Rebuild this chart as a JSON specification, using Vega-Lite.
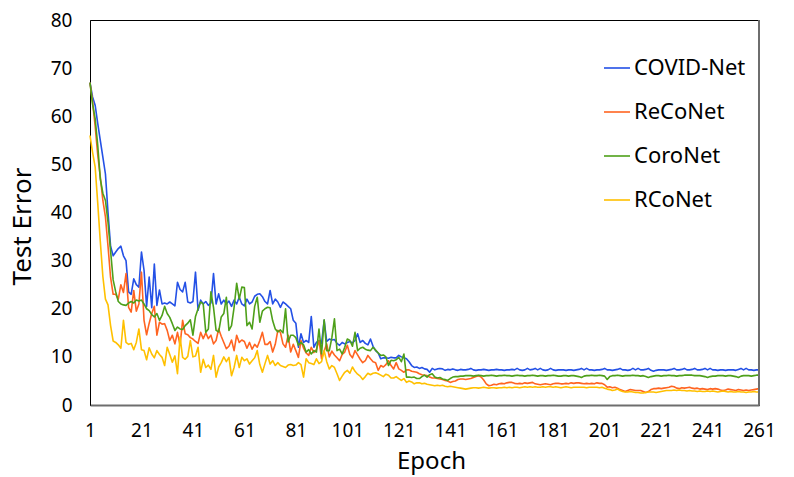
{
"$schema": "https://vega.github.io/schema/vega-lite/v6.json",
"width": 669,
"height": 385,
"autosize": {"type": "none"},
"padding": {"left": 90, "top": 20, "right": 35, "bottom": 72},
"background": "white",
"config": {
  "font": "Noto Sans",
  "view": {"stroke": "#000", "strokeWidth": 1},
  "axis": {"grid": false, "ticks": false, "labelColor": "#000", "titleColor": "#000", "titleFontWeight": "normal", "labelFont": "Noto Sans", "titleFont": "Noto Sans"}
},
"data": {"values": [
{"e":1,"COVID-Net":67,"ReCoNet":67,"CoroNet":67,"RCoNet":56},
{"e":2,"COVID-Net":64,"ReCoNet":63,"CoroNet":62.5,"RCoNet":52.5},
{"e":3,"COVID-Net":62.3,"ReCoNet":58,"CoroNet":59.5,"RCoNet":49.5},
{"e":4,"COVID-Net":58.5,"ReCoNet":52,"CoroNet":54,"RCoNet":42},
{"e":5,"COVID-Net":55,"ReCoNet":47.4,"CoroNet":47,"RCoNet":34},
{"e":6,"COVID-Net":51.5,"ReCoNet":42.5,"CoroNet":44,"RCoNet":26.7},
{"e":7,"COVID-Net":48,"ReCoNet":39.1,"CoroNet":42.5,"RCoNet":22},
{"e":8,"COVID-Net":40,"ReCoNet":33,"CoroNet":38,"RCoNet":20.8},
{"e":9,"COVID-Net":33,"ReCoNet":26.5,"CoroNet":32,"RCoNet":16.5},
{"e":10,"COVID-Net":31,"ReCoNet":23,"CoroNet":26,"RCoNet":13.3},
{"e":11,"COVID-Net":31.8,"ReCoNet":23,"CoroNet":23.5,"RCoNet":13},
{"e":12,"COVID-Net":32.5,"ReCoNet":22,"CoroNet":21.5,"RCoNet":12.5},
{"e":13,"COVID-Net":33,"ReCoNet":25,"CoroNet":21,"RCoNet":11.8},
{"e":14,"COVID-Net":31,"ReCoNet":23.4,"CoroNet":20.8,"RCoNet":17.6},
{"e":15,"COVID-Net":30,"ReCoNet":27.3,"CoroNet":20.7,"RCoNet":13},
{"e":16,"COVID-Net":23.5,"ReCoNet":20.3,"CoroNet":21.2,"RCoNet":12.6},
{"e":17,"COVID-Net":23,"ReCoNet":19.3,"CoroNet":21.5,"RCoNet":12.8},
{"e":18,"COVID-Net":26.2,"ReCoNet":23.8,"CoroNet":21.2,"RCoNet":11.5},
{"e":19,"COVID-Net":25,"ReCoNet":19.5,"CoroNet":21.8,"RCoNet":13},
{"e":20,"COVID-Net":24.5,"ReCoNet":21,"CoroNet":21.6,"RCoNet":15.8},
{"e":21,"COVID-Net":31.8,"ReCoNet":27.6,"CoroNet":21.8,"RCoNet":11.5},
{"e":22,"COVID-Net":28,"ReCoNet":17.6,"CoroNet":21,"RCoNet":11.3},
{"e":23,"COVID-Net":20.5,"ReCoNet":14.6,"CoroNet":20,"RCoNet":9.4},
{"e":24,"COVID-Net":26.6,"ReCoNet":17,"CoroNet":19.6,"RCoNet":11.9},
{"e":25,"COVID-Net":20.2,"ReCoNet":19,"CoroNet":18.8,"RCoNet":10.6},
{"e":26,"COVID-Net":29.3,"ReCoNet":20.5,"CoroNet":18.3,"RCoNet":9.8},
{"e":27,"COVID-Net":20.7,"ReCoNet":14.5,"CoroNet":19,"RCoNet":11.3},
{"e":28,"COVID-Net":23.9,"ReCoNet":17.2,"CoroNet":17.6,"RCoNet":10.5},
{"e":29,"COVID-Net":21,"ReCoNet":16.8,"CoroNet":18.6,"RCoNet":9.9},
{"e":30,"COVID-Net":21.2,"ReCoNet":16.9,"CoroNet":20.5,"RCoNet":8.2},
{"e":31,"COVID-Net":21,"ReCoNet":15.5,"CoroNet":19,"RCoNet":12},
{"e":32,"COVID-Net":21.4,"ReCoNet":13.4,"CoroNet":18.2,"RCoNet":10.5},
{"e":33,"COVID-Net":21,"ReCoNet":14.5,"CoroNet":16.9,"RCoNet":8.9},
{"e":34,"COVID-Net":20.6,"ReCoNet":12.7,"CoroNet":15.5,"RCoNet":10.2},
{"e":35,"COVID-Net":25.5,"ReCoNet":15.1,"CoroNet":16.2,"RCoNet":6.5},
{"e":36,"COVID-Net":24,"ReCoNet":12.4,"CoroNet":15.8,"RCoNet":14.1},
{"e":37,"COVID-Net":23.5,"ReCoNet":17.6,"CoroNet":15.7,"RCoNet":9.9},
{"e":38,"COVID-Net":25.5,"ReCoNet":14.8,"CoroNet":16.5,"RCoNet":9.5},
{"e":39,"COVID-Net":21.4,"ReCoNet":14.6,"CoroNet":17,"RCoNet":10.1},
{"e":40,"COVID-Net":21.2,"ReCoNet":14,"CoroNet":17.7,"RCoNet":13.4},
{"e":41,"COVID-Net":21.5,"ReCoNet":13.7,"CoroNet":14.5,"RCoNet":10},
{"e":42,"COVID-Net":27.6,"ReCoNet":13.2,"CoroNet":18.4,"RCoNet":10.2},
{"e":43,"COVID-Net":19.7,"ReCoNet":12.8,"CoroNet":20,"RCoNet":12},
{"e":44,"COVID-Net":21.8,"ReCoNet":15.1,"CoroNet":21.4,"RCoNet":6.8},
{"e":45,"COVID-Net":21,"ReCoNet":13.8,"CoroNet":21,"RCoNet":9.5},
{"e":46,"COVID-Net":21.5,"ReCoNet":15,"CoroNet":15.1,"RCoNet":7.8},
{"e":47,"COVID-Net":20.7,"ReCoNet":13.8,"CoroNet":15.8,"RCoNet":8.3},
{"e":48,"COVID-Net":21.2,"ReCoNet":14.5,"CoroNet":23.5,"RCoNet":7.4},
{"e":49,"COVID-Net":27.3,"ReCoNet":12.7,"CoroNet":20.3,"RCoNet":10.3},
{"e":50,"COVID-Net":21,"ReCoNet":13.4,"CoroNet":15.5,"RCoNet":5.8},
{"e":51,"COVID-Net":23.1,"ReCoNet":15.8,"CoroNet":15.2,"RCoNet":7.9},
{"e":52,"COVID-Net":21,"ReCoNet":14.3,"CoroNet":18.3,"RCoNet":8.8},
{"e":53,"COVID-Net":21.8,"ReCoNet":13,"CoroNet":19,"RCoNet":10},
{"e":54,"COVID-Net":21,"ReCoNet":11.7,"CoroNet":22.4,"RCoNet":9},
{"e":55,"COVID-Net":21.6,"ReCoNet":12.2,"CoroNet":15.5,"RCoNet":9.9},
{"e":56,"COVID-Net":20.5,"ReCoNet":13.5,"CoroNet":16.5,"RCoNet":6.1},
{"e":57,"COVID-Net":21.8,"ReCoNet":11.3,"CoroNet":20.3,"RCoNet":7.8},
{"e":58,"COVID-Net":21,"ReCoNet":14.5,"CoroNet":25.3,"RCoNet":10.3},
{"e":59,"COVID-Net":22.4,"ReCoNet":13,"CoroNet":22,"RCoNet":7.8},
{"e":60,"COVID-Net":21,"ReCoNet":13.5,"CoroNet":24.5,"RCoNet":9.9},
{"e":61,"COVID-Net":20.6,"ReCoNet":13.2,"CoroNet":24.4,"RCoNet":9.2},
{"e":62,"COVID-Net":22,"ReCoNet":11.8,"CoroNet":16.5,"RCoNet":9.6},
{"e":63,"COVID-Net":21,"ReCoNet":13,"CoroNet":17.2,"RCoNet":8.5},
{"e":64,"COVID-Net":21.4,"ReCoNet":11.6,"CoroNet":15.8,"RCoNet":9.2},
{"e":65,"COVID-Net":22.6,"ReCoNet":12.6,"CoroNet":20.5,"RCoNet":9.8},
{"e":66,"COVID-Net":23,"ReCoNet":12,"CoroNet":22.4,"RCoNet":11.3},
{"e":67,"COVID-Net":23.1,"ReCoNet":13.4,"CoroNet":17.2,"RCoNet":8.4},
{"e":68,"COVID-Net":22.5,"ReCoNet":15.1,"CoroNet":19.5,"RCoNet":6.8},
{"e":69,"COVID-Net":21.5,"ReCoNet":12.6,"CoroNet":20,"RCoNet":8.6},
{"e":70,"COVID-Net":21,"ReCoNet":12.6,"CoroNet":20.3,"RCoNet":10.3},
{"e":71,"COVID-Net":23.8,"ReCoNet":13.2,"CoroNet":20.2,"RCoNet":8.5},
{"e":72,"COVID-Net":21,"ReCoNet":11,"CoroNet":17.5,"RCoNet":9.2},
{"e":73,"COVID-Net":22,"ReCoNet":12.6,"CoroNet":15.8,"RCoNet":8.2},
{"e":74,"COVID-Net":21.4,"ReCoNet":15.5,"CoroNet":15.2,"RCoNet":8.8},
{"e":75,"COVID-Net":20.3,"ReCoNet":15.1,"CoroNet":15.6,"RCoNet":8.2},
{"e":76,"COVID-Net":21.4,"ReCoNet":12.7,"CoroNet":15,"RCoNet":8},
{"e":77,"COVID-Net":21,"ReCoNet":12,"CoroNet":20,"RCoNet":7.8},
{"e":78,"COVID-Net":20.5,"ReCoNet":14.5,"CoroNet":13.1,"RCoNet":8.3},
{"e":79,"COVID-Net":20,"ReCoNet":11,"CoroNet":14.5,"RCoNet":8.4},
{"e":80,"COVID-Net":17.6,"ReCoNet":12.6,"CoroNet":14.5,"RCoNet":8.2},
{"e":81,"COVID-Net":17,"ReCoNet":11.3,"CoroNet":14,"RCoNet":8.3},
{"e":82,"COVID-Net":12,"ReCoNet":9.9,"CoroNet":12.4,"RCoNet":8.8},
{"e":83,"COVID-Net":14.8,"ReCoNet":13.4,"CoroNet":13,"RCoNet":8.4},
{"e":84,"COVID-Net":13,"ReCoNet":11.8,"CoroNet":12.5,"RCoNet":5.8},
{"e":85,"COVID-Net":13.4,"ReCoNet":10.8,"CoroNet":11,"RCoNet":9.6},
{"e":86,"COVID-Net":13,"ReCoNet":10.3,"CoroNet":11.5,"RCoNet":8.8},
{"e":87,"COVID-Net":18.4,"ReCoNet":12,"CoroNet":10.6,"RCoNet":8.6},
{"e":88,"COVID-Net":12,"ReCoNet":10.9,"CoroNet":11.3,"RCoNet":8.4},
{"e":89,"COVID-Net":13,"ReCoNet":11.5,"CoroNet":11,"RCoNet":9.6},
{"e":90,"COVID-Net":13.4,"ReCoNet":13.4,"CoroNet":15.8,"RCoNet":8.6},
{"e":91,"COVID-Net":12.8,"ReCoNet":9.6,"CoroNet":10.6,"RCoNet":9},
{"e":92,"COVID-Net":17.6,"ReCoNet":11.2,"CoroNet":17.7,"RCoNet":11.3},
{"e":93,"COVID-Net":13.2,"ReCoNet":12.7,"CoroNet":11.3,"RCoNet":9},
{"e":94,"COVID-Net":13.7,"ReCoNet":10,"CoroNet":11.3,"RCoNet":7.5},
{"e":95,"COVID-Net":13.5,"ReCoNet":11.2,"CoroNet":14,"RCoNet":8.2},
{"e":96,"COVID-Net":13.6,"ReCoNet":10.4,"CoroNet":17.9,"RCoNet":7.8},
{"e":97,"COVID-Net":12.8,"ReCoNet":9.8,"CoroNet":11.3,"RCoNet":6.5},
{"e":98,"COVID-Net":12.4,"ReCoNet":9.2,"CoroNet":11.6,"RCoNet":5.1},
{"e":99,"COVID-Net":13,"ReCoNet":10.5,"CoroNet":10.6,"RCoNet":6},
{"e":100,"COVID-Net":12.7,"ReCoNet":11,"CoroNet":12,"RCoNet":6.8},
{"e":101,"COVID-Net":13,"ReCoNet":12.4,"CoroNet":13.7,"RCoNet":7.2},
{"e":102,"COVID-Net":13.2,"ReCoNet":10.5,"CoroNet":13.4,"RCoNet":6.6},
{"e":103,"COVID-Net":12.9,"ReCoNet":9.8,"CoroNet":12.2,"RCoNet":7.9},
{"e":104,"COVID-Net":13.4,"ReCoNet":11.3,"CoroNet":15.1,"RCoNet":7},
{"e":105,"COVID-Net":14.8,"ReCoNet":10.4,"CoroNet":11.3,"RCoNet":6.4},
{"e":106,"COVID-Net":13,"ReCoNet":9.5,"CoroNet":11.8,"RCoNet":6},
{"e":107,"COVID-Net":13.4,"ReCoNet":8.8,"CoroNet":12,"RCoNet":5.3},
{"e":108,"COVID-Net":12.8,"ReCoNet":9.2,"CoroNet":11.6,"RCoNet":5.9},
{"e":109,"COVID-Net":12.5,"ReCoNet":10.3,"CoroNet":11.4,"RCoNet":6.6},
{"e":110,"COVID-Net":13.7,"ReCoNet":9.6,"CoroNet":11.3,"RCoNet":6.3},
{"e":111,"COVID-Net":12.2,"ReCoNet":9,"CoroNet":12,"RCoNet":6.6},
{"e":112,"COVID-Net":11.3,"ReCoNet":8.8,"CoroNet":11.4,"RCoNet":6.7},
{"e":113,"COVID-Net":10.8,"ReCoNet":7.2,"CoroNet":10.8,"RCoNet":6.5},
{"e":114,"COVID-Net":9.6,"ReCoNet":8.2,"CoroNet":10.3,"RCoNet":6.2},
{"e":115,"COVID-Net":9.8,"ReCoNet":7.9,"CoroNet":10.4,"RCoNet":5.9},
{"e":116,"COVID-Net":9.8,"ReCoNet":8.4,"CoroNet":10,"RCoNet":6.4},
{"e":117,"COVID-Net":9.7,"ReCoNet":9.2,"CoroNet":8.2,"RCoNet":6.2},
{"e":118,"COVID-Net":9.9,"ReCoNet":8.2,"CoroNet":9.3,"RCoNet":5.6},
{"e":119,"COVID-Net":9.8,"ReCoNet":7.5,"CoroNet":9.2,"RCoNet":5.6},
{"e":120,"COVID-Net":9.8,"ReCoNet":8.8,"CoroNet":9.4,"RCoNet":5.9},
{"e":121,"COVID-Net":10.3,"ReCoNet":7.5,"CoroNet":9.9,"RCoNet":5.5},
{"e":122,"COVID-Net":10,"ReCoNet":7.2,"CoroNet":9,"RCoNet":5.1},
{"e":123,"COVID-Net":9.8,"ReCoNet":6.8,"CoroNet":10.6,"RCoNet":5.5},
{"e":124,"COVID-Net":9.6,"ReCoNet":7.3,"CoroNet":5.8,"RCoNet":4.7},
{"e":125,"COVID-Net":9,"ReCoNet":7.3,"CoroNet":5.8,"RCoNet":5},
{"e":126,"COVID-Net":8.2,"ReCoNet":7,"CoroNet":5.7,"RCoNet":4.8},
{"e":127,"COVID-Net":7.8,"ReCoNet":6.9,"CoroNet":5.8,"RCoNet":4.4},
{"e":128,"COVID-Net":7.9,"ReCoNet":6.8,"CoroNet":5.5,"RCoNet":4.6},
{"e":129,"COVID-Net":7.6,"ReCoNet":6.5,"CoroNet":5.5,"RCoNet":4.6},
{"e":130,"COVID-Net":7.8,"ReCoNet":6.3,"CoroNet":5.9,"RCoNet":4.4},
{"e":131,"COVID-Net":7.5,"ReCoNet":6.2,"CoroNet":6.2,"RCoNet":4.5},
{"e":132,"COVID-Net":7.4,"ReCoNet":6.1,"CoroNet":5.8,"RCoNet":4.3},
{"e":133,"COVID-Net":6.8,"ReCoNet":5.8,"CoroNet":6.3,"RCoNet":4.2},
{"e":134,"COVID-Net":7.6,"ReCoNet":5.6,"CoroNet":6.5,"RCoNet":4.1},
{"e":135,"COVID-Net":7.3,"ReCoNet":5.6,"CoroNet":5.8,"RCoNet":4},
{"e":136,"COVID-Net":7.5,"ReCoNet":5.5,"CoroNet":5.6,"RCoNet":4.1},
{"e":137,"COVID-Net":7.6,"ReCoNet":5.4,"CoroNet":5.7,"RCoNet":4},
{"e":138,"COVID-Net":7.5,"ReCoNet":5.3,"CoroNet":5.4,"RCoNet":4.1},
{"e":139,"COVID-Net":7.2,"ReCoNet":5.1,"CoroNet":5.3,"RCoNet":3.9},
{"e":140,"COVID-Net":7.4,"ReCoNet":5,"CoroNet":5.1,"RCoNet":3.8},
{"e":141,"COVID-Net":7.3,"ReCoNet":4.7,"CoroNet":5.5,"RCoNet":3.9},
{"e":142,"COVID-Net":7.5,"ReCoNet":4.9,"CoroNet":5.8,"RCoNet":3.8},
{"e":143,"COVID-Net":7.3,"ReCoNet":5,"CoroNet":5.9,"RCoNet":3.7},
{"e":144,"COVID-Net":7.2,"ReCoNet":5.3,"CoroNet":5.9,"RCoNet":3.6},
{"e":145,"COVID-Net":7.4,"ReCoNet":5.4,"CoroNet":6,"RCoNet":3.5},
{"e":146,"COVID-Net":7.3,"ReCoNet":5.4,"CoroNet":6,"RCoNet":3.4},
{"e":147,"COVID-Net":7.3,"ReCoNet":5.3,"CoroNet":6.1,"RCoNet":3.3},
{"e":148,"COVID-Net":7.4,"ReCoNet":5.4,"CoroNet":6.1,"RCoNet":3.4},
{"e":149,"COVID-Net":7.6,"ReCoNet":5.5,"CoroNet":6.1,"RCoNet":3.5},
{"e":150,"COVID-Net":7.3,"ReCoNet":5.7,"CoroNet":6,"RCoNet":3.6},
{"e":151,"COVID-Net":7.2,"ReCoNet":5.9,"CoroNet":6.1,"RCoNet":3.6},
{"e":152,"COVID-Net":7.3,"ReCoNet":6.1,"CoroNet":6.2,"RCoNet":3.5},
{"e":153,"COVID-Net":7.3,"ReCoNet":5.8,"CoroNet":6.1,"RCoNet":3.6},
{"e":154,"COVID-Net":7.4,"ReCoNet":5.2,"CoroNet":6,"RCoNet":3.7},
{"e":155,"COVID-Net":7.3,"ReCoNet":4.4,"CoroNet":6.1,"RCoNet":3.6},
{"e":156,"COVID-Net":7.2,"ReCoNet":4,"CoroNet":6.1,"RCoNet":3.5},
{"e":157,"COVID-Net":7.3,"ReCoNet":4.1,"CoroNet":6.2,"RCoNet":3.6},
{"e":158,"COVID-Net":7.3,"ReCoNet":4.3,"CoroNet":6.1,"RCoNet":3.6},
{"e":159,"COVID-Net":7.4,"ReCoNet":4.2,"CoroNet":6,"RCoNet":3.5},
{"e":160,"COVID-Net":7.3,"ReCoNet":4.4,"CoroNet":6.1,"RCoNet":3.6},
{"e":161,"COVID-Net":7.3,"ReCoNet":4.5,"CoroNet":6.1,"RCoNet":3.6},
{"e":162,"COVID-Net":7.2,"ReCoNet":4.4,"CoroNet":6.2,"RCoNet":3.7},
{"e":163,"COVID-Net":7.3,"ReCoNet":4.6,"CoroNet":6.1,"RCoNet":3.6},
{"e":164,"COVID-Net":7.3,"ReCoNet":4.7,"CoroNet":6.1,"RCoNet":3.7},
{"e":165,"COVID-Net":7.4,"ReCoNet":4.7,"CoroNet":6,"RCoNet":3.6},
{"e":166,"COVID-Net":7.3,"ReCoNet":4.5,"CoroNet":6.1,"RCoNet":3.7},
{"e":167,"COVID-Net":7.6,"ReCoNet":4.4,"CoroNet":6.2,"RCoNet":3.7},
{"e":168,"COVID-Net":7.3,"ReCoNet":4.5,"CoroNet":6.1,"RCoNet":3.6},
{"e":169,"COVID-Net":7.2,"ReCoNet":4.4,"CoroNet":6.1,"RCoNet":3.7},
{"e":170,"COVID-Net":7.3,"ReCoNet":4.6,"CoroNet":6,"RCoNet":3.8},
{"e":171,"COVID-Net":7.6,"ReCoNet":4.5,"CoroNet":6.1,"RCoNet":3.7},
{"e":172,"COVID-Net":7.3,"ReCoNet":4.6,"CoroNet":6.1,"RCoNet":3.8},
{"e":173,"COVID-Net":7.4,"ReCoNet":4.7,"CoroNet":6.2,"RCoNet":3.7},
{"e":174,"COVID-Net":7.6,"ReCoNet":4.4,"CoroNet":6.1,"RCoNet":3.8},
{"e":175,"COVID-Net":7.3,"ReCoNet":4.3,"CoroNet":6,"RCoNet":3.7},
{"e":176,"COVID-Net":7.6,"ReCoNet":4.2,"CoroNet":6.1,"RCoNet":3.7},
{"e":177,"COVID-Net":7.3,"ReCoNet":4.3,"CoroNet":6.1,"RCoNet":3.8},
{"e":178,"COVID-Net":7.2,"ReCoNet":4.4,"CoroNet":6,"RCoNet":3.7},
{"e":179,"COVID-Net":7.3,"ReCoNet":4.3,"CoroNet":6.1,"RCoNet":3.8},
{"e":180,"COVID-Net":7.6,"ReCoNet":4.2,"CoroNet":6.1,"RCoNet":3.8},
{"e":181,"COVID-Net":7.3,"ReCoNet":4.4,"CoroNet":6.2,"RCoNet":3.7},
{"e":182,"COVID-Net":7.2,"ReCoNet":4.5,"CoroNet":6.1,"RCoNet":3.8},
{"e":183,"COVID-Net":7.3,"ReCoNet":4.5,"CoroNet":6,"RCoNet":3.7},
{"e":184,"COVID-Net":7.3,"ReCoNet":4.4,"CoroNet":6,"RCoNet":3.6},
{"e":185,"COVID-Net":7.3,"ReCoNet":4.4,"CoroNet":6.1,"RCoNet":3.7},
{"e":186,"COVID-Net":7.2,"ReCoNet":4.5,"CoroNet":6.1,"RCoNet":3.8},
{"e":187,"COVID-Net":7.3,"ReCoNet":4.4,"CoroNet":6,"RCoNet":3.7},
{"e":188,"COVID-Net":7.3,"ReCoNet":4.6,"CoroNet":6.1,"RCoNet":3.6},
{"e":189,"COVID-Net":7.2,"ReCoNet":4.5,"CoroNet":6.1,"RCoNet":3.7},
{"e":190,"COVID-Net":7.3,"ReCoNet":4.6,"CoroNet":6,"RCoNet":3.7},
{"e":191,"COVID-Net":7.4,"ReCoNet":4.6,"CoroNet":5.9,"RCoNet":3.7},
{"e":192,"COVID-Net":7.6,"ReCoNet":4.5,"CoroNet":5.7,"RCoNet":3.7},
{"e":193,"COVID-Net":7.3,"ReCoNet":4.4,"CoroNet":6,"RCoNet":3.7},
{"e":194,"COVID-Net":7.6,"ReCoNet":4.5,"CoroNet":6.1,"RCoNet":3.6},
{"e":195,"COVID-Net":7.3,"ReCoNet":4.4,"CoroNet":6.1,"RCoNet":3.7},
{"e":196,"COVID-Net":7.3,"ReCoNet":4.5,"CoroNet":6.2,"RCoNet":3.7},
{"e":197,"COVID-Net":7.2,"ReCoNet":4.4,"CoroNet":6.1,"RCoNet":3.7},
{"e":198,"COVID-Net":7.3,"ReCoNet":4.6,"CoroNet":6.1,"RCoNet":3.7},
{"e":199,"COVID-Net":7.3,"ReCoNet":4.5,"CoroNet":6.2,"RCoNet":3.6},
{"e":200,"COVID-Net":7.4,"ReCoNet":4.5,"CoroNet":6.1,"RCoNet":3.7},
{"e":201,"COVID-Net":7.6,"ReCoNet":4.2,"CoroNet":6,"RCoNet":3.5},
{"e":202,"COVID-Net":7.3,"ReCoNet":3.7,"CoroNet":5.3,"RCoNet":3.3},
{"e":203,"COVID-Net":7.3,"ReCoNet":3.8,"CoroNet":5.9,"RCoNet":3.2},
{"e":204,"COVID-Net":7.2,"ReCoNet":3.6,"CoroNet":6.1,"RCoNet":3},
{"e":205,"COVID-Net":7.3,"ReCoNet":3.7,"CoroNet":6.1,"RCoNet":3.1},
{"e":206,"COVID-Net":7.4,"ReCoNet":3.5,"CoroNet":6.2,"RCoNet":3.3},
{"e":207,"COVID-Net":7.6,"ReCoNet":3.2,"CoroNet":6.1,"RCoNet":3},
{"e":208,"COVID-Net":7.3,"ReCoNet":3,"CoroNet":6,"RCoNet":2.8},
{"e":209,"COVID-Net":7.3,"ReCoNet":2.8,"CoroNet":6.1,"RCoNet":2.7},
{"e":210,"COVID-Net":7.2,"ReCoNet":3,"CoroNet":6.1,"RCoNet":2.7},
{"e":211,"COVID-Net":7.3,"ReCoNet":3.2,"CoroNet":6.1,"RCoNet":2.8},
{"e":212,"COVID-Net":7.6,"ReCoNet":3.1,"CoroNet":6.2,"RCoNet":2.7},
{"e":213,"COVID-Net":7.3,"ReCoNet":3,"CoroNet":6.1,"RCoNet":2.6},
{"e":214,"COVID-Net":7.6,"ReCoNet":3,"CoroNet":6.1,"RCoNet":2.6},
{"e":215,"COVID-Net":7.3,"ReCoNet":3,"CoroNet":6,"RCoNet":2.5},
{"e":216,"COVID-Net":7.3,"ReCoNet":2.8,"CoroNet":6.1,"RCoNet":2.5},
{"e":217,"COVID-Net":7.4,"ReCoNet":2.6,"CoroNet":5.9,"RCoNet":2.6},
{"e":218,"COVID-Net":7.6,"ReCoNet":2.8,"CoroNet":5.7,"RCoNet":2.7},
{"e":219,"COVID-Net":7.2,"ReCoNet":3.2,"CoroNet":5.9,"RCoNet":2.7},
{"e":220,"COVID-Net":7,"ReCoNet":3.4,"CoroNet":6,"RCoNet":2.7},
{"e":221,"COVID-Net":7.2,"ReCoNet":3.4,"CoroNet":6.1,"RCoNet":2.6},
{"e":222,"COVID-Net":7.3,"ReCoNet":3.5,"CoroNet":6.1,"RCoNet":2.7},
{"e":223,"COVID-Net":7.3,"ReCoNet":3.4,"CoroNet":6,"RCoNet":2.8},
{"e":224,"COVID-Net":7.3,"ReCoNet":3.5,"CoroNet":6.1,"RCoNet":2.9},
{"e":225,"COVID-Net":7.2,"ReCoNet":3.6,"CoroNet":6.1,"RCoNet":3},
{"e":226,"COVID-Net":7.3,"ReCoNet":3.7,"CoroNet":6.2,"RCoNet":3},
{"e":227,"COVID-Net":7.4,"ReCoNet":3.9,"CoroNet":6.1,"RCoNet":3},
{"e":228,"COVID-Net":7.6,"ReCoNet":3.8,"CoroNet":6.1,"RCoNet":3.1},
{"e":229,"COVID-Net":7.3,"ReCoNet":3.5,"CoroNet":6,"RCoNet":3},
{"e":230,"COVID-Net":7.3,"ReCoNet":3.4,"CoroNet":6.1,"RCoNet":3.1},
{"e":231,"COVID-Net":7.4,"ReCoNet":3.6,"CoroNet":6.1,"RCoNet":3},
{"e":232,"COVID-Net":7.6,"ReCoNet":3.5,"CoroNet":6.2,"RCoNet":3},
{"e":233,"COVID-Net":7.3,"ReCoNet":3.6,"CoroNet":6.2,"RCoNet":2.9},
{"e":234,"COVID-Net":7.3,"ReCoNet":3.7,"CoroNet":6.2,"RCoNet":3},
{"e":235,"COVID-Net":7.4,"ReCoNet":3.5,"CoroNet":6.2,"RCoNet":2.9},
{"e":236,"COVID-Net":7.6,"ReCoNet":3.4,"CoroNet":6.1,"RCoNet":2.9},
{"e":237,"COVID-Net":7.3,"ReCoNet":3.5,"CoroNet":6.1,"RCoNet":2.8},
{"e":238,"COVID-Net":7.3,"ReCoNet":3.3,"CoroNet":6.1,"RCoNet":2.9},
{"e":239,"COVID-Net":7.4,"ReCoNet":3.4,"CoroNet":6,"RCoNet":2.8},
{"e":240,"COVID-Net":7.6,"ReCoNet":3.3,"CoroNet":5.9,"RCoNet":2.8},
{"e":241,"COVID-Net":7.3,"ReCoNet":3.2,"CoroNet":5.7,"RCoNet":2.9},
{"e":242,"COVID-Net":7.6,"ReCoNet":3.4,"CoroNet":5.9,"RCoNet":2.8},
{"e":243,"COVID-Net":7.3,"ReCoNet":3.3,"CoroNet":6,"RCoNet":2.9},
{"e":244,"COVID-Net":7.3,"ReCoNet":3.4,"CoroNet":6,"RCoNet":2.8},
{"e":245,"COVID-Net":7.2,"ReCoNet":3.3,"CoroNet":6.1,"RCoNet":2.7},
{"e":246,"COVID-Net":7.3,"ReCoNet":3.1,"CoroNet":6.1,"RCoNet":2.8},
{"e":247,"COVID-Net":7.3,"ReCoNet":3,"CoroNet":6.1,"RCoNet":2.9},
{"e":248,"COVID-Net":7.2,"ReCoNet":3.1,"CoroNet":6,"RCoNet":2.8},
{"e":249,"COVID-Net":7.3,"ReCoNet":3.3,"CoroNet":6.1,"RCoNet":2.7},
{"e":250,"COVID-Net":7.3,"ReCoNet":3.2,"CoroNet":6.1,"RCoNet":2.8},
{"e":251,"COVID-Net":7.3,"ReCoNet":3.1,"CoroNet":6,"RCoNet":2.7},
{"e":252,"COVID-Net":7.2,"ReCoNet":3,"CoroNet":5.9,"RCoNet":2.7},
{"e":253,"COVID-Net":7.4,"ReCoNet":3.2,"CoroNet":5.7,"RCoNet":2.8},
{"e":254,"COVID-Net":7.6,"ReCoNet":3.1,"CoroNet":6,"RCoNet":2.7},
{"e":255,"COVID-Net":7.3,"ReCoNet":3,"CoroNet":6.1,"RCoNet":2.7},
{"e":256,"COVID-Net":7.6,"ReCoNet":3.1,"CoroNet":6.1,"RCoNet":2.6},
{"e":257,"COVID-Net":7.3,"ReCoNet":3,"CoroNet":6.1,"RCoNet":2.7},
{"e":258,"COVID-Net":7.3,"ReCoNet":3.1,"CoroNet":6,"RCoNet":2.7},
{"e":259,"COVID-Net":7.2,"ReCoNet":3.2,"CoroNet":6.1,"RCoNet":2.8},
{"e":260,"COVID-Net":7.3,"ReCoNet":3.3,"CoroNet":6.2,"RCoNet":2.7},
{"e":261,"COVID-Net":7.3,"ReCoNet":3.4,"CoroNet":6.2,"RCoNet":2.7}
]},
"layer": [
  {
    "transform": [{"fold": ["COVID-Net", "ReCoNet", "CoroNet", "RCoNet"], "as": ["model", "err"]}],
    "mark": {"type": "line", "strokeWidth": 1.6, "strokeJoin": "round"},
    "encoding": {
      "x": {"field": "e", "type": "quantitative",
        "scale": {"domain": [1, 261], "nice": false, "zero": false},
        "axis": {"values": [1, 21, 41, 61, 81, 101, 121, 141, 161, 181, 201, 221, 241, 261],
          "title": "Epoch", "labelFontSize": 19, "labelPadding": 16, "titleFontSize": 24,
          "titleX": 341, "titleY": 63, "titleBaseline": "alphabetic",
          "domainColor": "#6e6e6e", "domainWidth": 2, "labelFlush": false}},
      "y": {"field": "err", "type": "quantitative",
        "scale": {"domain": [0, 80], "nice": false},
        "axis": {"values": [0, 10, 20, 30, 40, 50, 60, 70, 80],
          "title": "Test Error", "labelFontSize": 19, "labelPadding": 18, "titleFontSize": 26,
          "titleX": -60, "titleY": 206, "titleBaseline": "alphabetic", "titleAngle": -90,
          "domainColor": "#000", "domainWidth": 1}},
      "color": {"field": "model", "type": "nominal",
        "scale": {"domain": ["COVID-Net", "ReCoNet", "CoroNet", "RCoNet"],
                  "range": ["#2451E6", "#FF6421", "#4EA01A", "#FFC000"]},
        "legend": {"title": null, "orient": "none", "legendX": 513, "legendY": 34,
          "symbolType": "stroke", "symbolSize": 676, "symbolStrokeWidth": 1.6,
          "labelFontSize": 22, "labelColor": "#000", "labelFont": "Noto Sans",
          "rowPadding": 19, "labelOffset": 3, "padding": 0}}
    }
  },
  {
    "data": {"values": [{}]},
    "mark": {"type": "rule", "color": "#6e6e6e", "strokeWidth": 2},
    "encoding": {"x": {"datum": 261}}
  }
]
}
